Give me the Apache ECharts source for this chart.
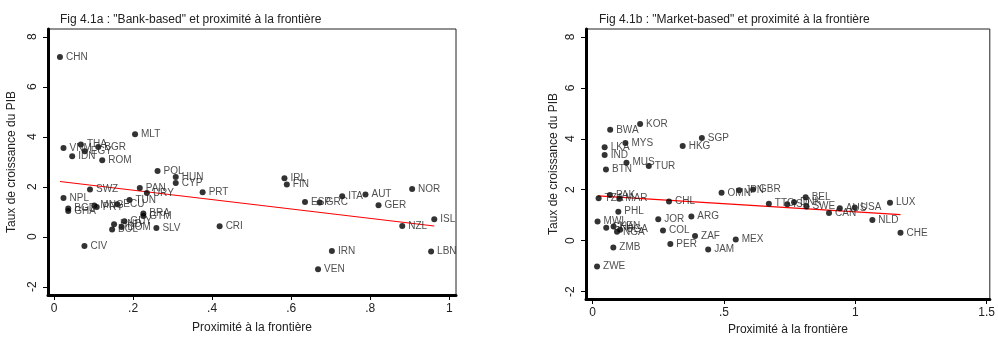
<!DOCTYPE html>
<html>
<head>
<meta charset="utf-8">
<script src="https://cdn.jsdelivr.net/npm/echarts@6/dist/echarts.min.js"></script>
<style>
  body { margin: 0; background: #fff; }
  #chart { width: 998px; height: 341px; }
</style>
</head>
<body>
<div id="chart"></div>
<script>
// panneau a : "Bank-based"
const bankCodes = ["CHN","MLT","VNM","THA","EGY","BGR","IDN","ROM","POL","HUN","CYP","PRT","PAN","URY","TUN","SWZ","NPL","BGD","GHA","MNG","PRY","ECU","BRA","GTM","GUY","HND","DOM","BOL","SLV","CRI","CIV","IRL","FIN","ESP","GRC","ITA","AUT","GER","NOR","ISL","NZL","IRN","LBN","VEN"];
const bankX = [0.015,0.205,0.024,0.068,0.078,0.112,0.046,0.122,0.262,0.308,0.308,0.376,0.217,0.235,0.191,0.091,0.024,0.036,0.036,0.102,0.108,0.160,0.226,0.226,0.178,0.152,0.171,0.147,0.259,0.419,0.077,0.583,0.589,0.635,0.672,0.729,0.788,0.821,0.906,0.962,0.881,0.703,0.954,0.668];
const bankY = [7.19,4.10,3.55,3.69,3.42,3.59,3.22,3.06,2.63,2.39,2.15,1.78,1.95,1.75,1.47,1.89,1.55,1.13,1.03,1.25,1.19,1.30,0.93,0.83,0.62,0.50,0.39,0.29,0.35,0.42,-0.37,2.34,2.09,1.39,1.37,1.62,1.69,1.26,1.91,0.70,0.43,-0.57,-0.59,-1.30];
const bankFit = [[0.015, 2.21], [0.962, 0.43]];

// panneau b : "Market-based"
const marketCodes = ["KOR","BWA","SGP","MYS","HKG","LKA","IND","MUS","TUR","BTN","PAK","TZA","MAR","CHL","OMN","JPN","GBR","PHL","JOR","ARG","MWI","GHA","KEN","NGA","UGA","COL","ZAF","PER","JAM","MEX","ZMB","ZWE","TTO","ISR","DNK","BEL","SWE","AUS","USA","CAN","LUX","NLD","CHE"];
const marketX = [0.181,0.067,0.416,0.125,0.343,0.046,0.046,0.129,0.214,0.051,0.066,0.023,0.102,0.291,0.491,0.558,0.611,0.098,0.250,0.376,0.019,0.052,0.080,0.093,0.105,0.268,0.390,0.296,0.440,0.545,0.079,0.017,0.671,0.741,0.767,0.811,0.814,0.941,0.998,0.900,1.132,1.065,1.172];
const marketY = [4.58,4.35,4.03,3.83,3.72,3.67,3.36,3.06,2.93,2.79,1.79,1.67,1.65,1.54,1.88,1.98,2.01,1.14,0.84,0.95,0.75,0.51,0.56,0.35,0.43,0.40,0.18,-0.13,-0.35,0.05,-0.27,-1.01,1.45,1.43,1.51,1.70,1.34,1.27,1.30,1.09,1.49,0.81,0.31];
const marketFit = [[0.02, 1.76], [1.172, 1.02]];

const yTicks = [-2, 0, 2, 4, 6, 8];
const bankXTicks = [0, 0.2, 0.4, 0.6, 0.8, 1];
const marketXTicks = [0, 0.5, 1, 1.5];

const font = "Liberation Sans, Arial, sans-serif";

function tickText(v) {
  // style Stata : ".2" au lieu de "0.2"
  let s = String(v);
  if (s.startsWith("0.")) s = s.slice(1);
  return s;
}

function points(codes, xs, ys) {
  return codes.map((c, i) => ({ name: c, value: [xs[i], ys[i]] }));
}

function xAxisFor(idx, ticks, min, max, gap) {
  return {
    gridIndex: idx, type: "value", min: min, max: max,
    name: "Proximité à la frontière", nameLocation: "middle", nameGap: gap,
    nameTextStyle: { fontFamily: font, fontSize: 12, color: "#222" },
    axisLine: { show: true, onZero: false, lineStyle: { color: "#000", width: 3 } },
    axisTick: { show: true, customValues: ticks, length: 5, lineStyle: { color: "#000", width: 1 } },
    axisLabel: { customValues: ticks, formatter: tickText, fontFamily: font, fontSize: 12, color: "#222", margin: 8 },
    splitLine: { show: false }
  };
}

function yAxisFor(idx, min, max, gap) {
  return {
    gridIndex: idx, type: "value", min: min, max: max,
    name: "Taux de croissance du PIB", nameLocation: "middle", nameGap: gap,
    nameTextStyle: { fontFamily: font, fontSize: 12, color: "#222" },
    axisLine: { show: true, onZero: false, lineStyle: { color: "#000", width: 3 } },
    axisTick: { show: true, customValues: yTicks, length: 5, lineStyle: { color: "#000", width: 1 } },
    axisLabel: { customValues: yTicks, rotate: 90, fontFamily: font, fontSize: 12, color: "#222", margin: 9 },
    splitLine: { show: false }
  };
}

function scatterFor(idx, data) {
  return {
    type: "scatter", xAxisIndex: idx, yAxisIndex: idx,
    data: data, symbolSize: 6, itemStyle: { color: "#000" },
    label: {
      show: true, position: "right", distance: 3, formatter: "{b}",
      fontFamily: font, fontSize: 10, color: "#222"
    },
    z: 3
  };
}

function fitFor(idx, data) {
  return {
    type: "line", xAxisIndex: idx, yAxisIndex: idx, data: data,
    symbol: "none", lineStyle: { color: "#ff0000", width: 1.2 }, z: 2
  };
}

const chart = echarts.init(document.getElementById("chart"), null, { renderer: "canvas" });
chart.setOption({
  backgroundColor: "#fff",
  animation: false,
  title: [
    { text: 'Fig 4.1a : "Bank-based" et proximité à la frontière', left: 55, top: 9,
      textStyle: { fontFamily: font, fontSize: 12, fontWeight: "normal", color: "#222" } },
    { text: 'Fig 4.1b : "Market-based" et proximité à la frontière', left: 594, top: 9,
      textStyle: { fontFamily: font, fontSize: 12, fontWeight: "normal", color: "#222" } }
  ],
  grid: [
    { left: 48, top: 29, width: 408, height: 266, show: true, borderColor: "#222", borderWidth: 1 },
    { left: 586, top: 29, width: 405, height: 271, show: true, borderColor: "#222", borderWidth: 1 }
  ],
  xAxis: [
    xAxisFor(0, bankXTicks, -0.0152, 1.017, 27),
    xAxisFor(1, marketXTicks, -0.025, 1.512, 25)
  ],
  yAxis: [
    yAxisFor(0, -2.33, 8.31, 30),
    yAxisFor(1, -2.29, 8.31, 26)
  ],
  series: [
    fitFor(0, bankFit),
    scatterFor(0, points(bankCodes, bankX, bankY)),
    fitFor(1, marketFit),
    scatterFor(1, points(marketCodes, marketX, marketY))
  ]
});
</script>
</body>
</html>
